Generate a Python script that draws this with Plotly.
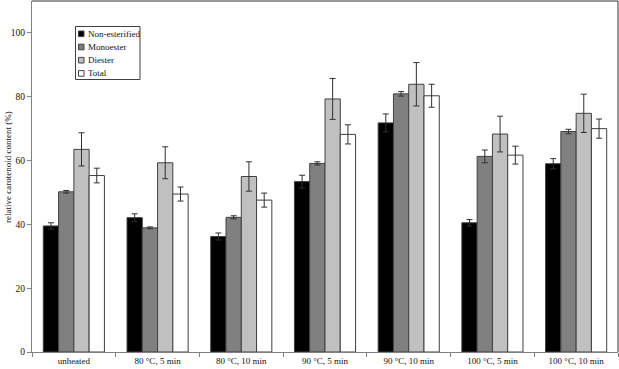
import plotly.graph_objects as go

categories = ["unheated", "80 °C, 5 min", "80 °C, 10 min", "90 °C, 5 min",
              "90 °C, 10 min", "100 °C, 5 min", "100 °C, 10 min"]
series_names = ["Non-esterified", "Monoester", "Diester", "Total"]
non_esterified = [39.5, 42.1, 36.2, 53.4, 71.8, 40.5, 59.0]
non_esterified_err = [1.0, 1.2, 1.1, 2.0, 2.8, 1.0, 1.6]
monoester = [50.2, 38.9, 42.2, 59.1, 80.9, 61.3, 69.1]
monoester_err = [0.4, 0.3, 0.5, 0.5, 0.7, 2.0, 0.7]
diester = [63.5, 59.3, 55.0, 79.3, 83.9, 68.3, 74.8]
diester_err = [5.2, 5.0, 4.6, 6.4, 6.8, 5.6, 6.0]
total = [55.3, 49.5, 47.6, 68.2, 80.3, 61.7, 70.0]
total_err = [2.3, 2.2, 2.2, 3.0, 3.6, 2.8, 3.0]
y_ticks = [0, 20, 40, 60, 80, 100]

values = [non_esterified, monoester, diester, total]
errors = [non_esterified_err, monoester_err, diester_err, total_err]
fills = ["#000000", "#808080", "#c0c0c0", "#ffffff"]

W, H = 619, 369
ML, MR, MT, MB = 32, 1, 1, 17
PW, PH = W - ML - MR, H - MT - MB
FONT = "'Liberation Serif', 'Times New Roman', serif"


def px_x(x):
    return (x - ML) / PW


def px_y(y):
    return 1 - (y - MT) / PH


fig = go.Figure()
for name, v, e, c in zip(series_names, values, errors, fills):
    fig.add_trace(go.Bar(
        x=categories, y=v, name=name,
        marker=dict(color=c, line=dict(color="#404040", width=1)),
        error_y=dict(type="data", array=e, visible=True, color="#303030",
                     thickness=1, width=3),
        showlegend=False,
    ))

shapes = [
    dict(type="line", xref="paper", yref="paper", x0=0, x1=1, y0=1, y1=1,
         line=dict(color="#303030", width=1)),
    dict(type="line", xref="paper", yref="paper", x0=1, x1=1, y0=0, y1=1,
         line=dict(color="#303030", width=1)),
    dict(type="rect", xref="paper", yref="paper",
         x0=px_x(75.5), x1=px_x(140), y0=px_y(26.5), y1=px_y(79.5),
         line=dict(color="#404040", width=1), fillcolor="white"),
]
annotations = []
for i, (name, c) in enumerate(zip(series_names, fills)):
    yc = 33.8 + i * 13.2
    shapes.append(dict(type="rect", xref="paper", yref="paper",
                       x0=px_x(78.5), x1=px_x(84), y0=px_y(yc - 2.8), y1=px_y(yc + 2.8),
                       line=dict(color="#404040", width=1), fillcolor=c))
    annotations.append(dict(text=name, xref="paper", yref="paper",
                            x=px_x(85.5), y=px_y(yc), xanchor="left", yanchor="middle",
                            showarrow=False, font=dict(family=FONT, size=9, color="#111")))

annotations.append(dict(text="relative carotenoid content (%)", xref="paper", yref="paper",
                        x=px_x(8), y=px_y(167), textangle=-90, showarrow=False,
                        xanchor="center", yanchor="middle",
                        font=dict(family=FONT, size=9, color="#111")))

fig.update_layout(
    width=W, height=H,
    margin=dict(l=ML, r=MR, t=MT, b=MB, autoexpand=False),
    paper_bgcolor="white", plot_bgcolor="white",
    barmode="group", bargap=0.27, bargroupgap=0,
    shapes=shapes, annotations=annotations,
    font=dict(family=FONT, size=9, color="#111"),
    xaxis=dict(type="category", showline=True, linecolor="#808080", linewidth=1,
               ticks="outside", tickson="boundaries", ticklen=4, tickcolor="#808080",
               showgrid=False, zeroline=False,
               tickfont=dict(family=FONT, size=9, color="#111"), automargin=False),
    yaxis=dict(range=[0, 110], tickvals=y_ticks, showline=True, linecolor="#808080",
               linewidth=1, ticks="outside", ticklen=4, tickcolor="#808080",
               showgrid=False, zeroline=False,
               tickfont=dict(family=FONT, size=9.5, color="#111"), automargin=False),
)

fig.write_html(
    "out.html",
    config={"displayModeBar": False},
    post_script="document.body.style.margin='0';document.body.style.overflow='hidden';",
)
